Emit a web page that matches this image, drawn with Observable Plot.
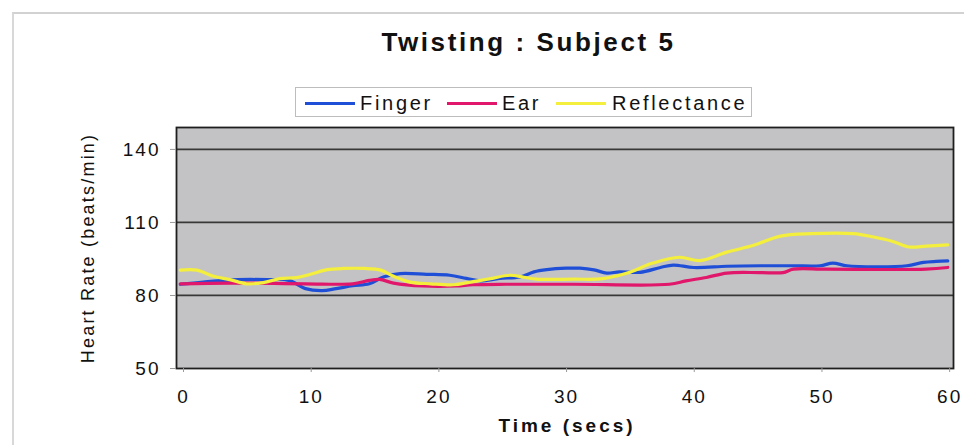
<!DOCTYPE html>
<html>
<head>
<meta charset="utf-8">
<script src="https://cdn.jsdelivr.net/npm/d3@7"></script>
<script src="https://cdn.jsdelivr.net/npm/@observablehq/plot@0.6"></script>
<style>
  body { margin: 0; background: #fff; font-family: "Liberation Sans", Arial, sans-serif; }
  #wrap { position: relative; width: 964px; height: 445px; overflow: hidden; background: #fff; }
  #outline { position: absolute; left: 12px; top: 12px; width: 980px; height: 460px;
             border-top: 2px solid #d2d2d2; border-left: 2px solid #d8d8d8; }
  #title { position: absolute; left: 0; width: 1057px; top: 28px; text-align: center; line-height: 29px;
           font-weight: bold; font-size: 26px; color: #111; letter-spacing: 2.6px; white-space: nowrap; }
  #legend { position: absolute; left: 295px; top: 87px; width: 457px; height: 30px;
            border: 1px solid #bdbdbd; box-sizing: border-box; }
  .sw { position: absolute; top: 102px; width: 50px; height: 3px; }
  .lab { position: absolute; top: 93px; font-size: 20px; line-height: 20px; color: #111;
         letter-spacing: 2.7px; white-space: nowrap; }
  svg { position: absolute; left: 0; top: 0; }
</style>
</head>
<body>
<div id="wrap">
  <div id="outline"></div>
  <div id="title">Twisting : Subject 5</div>
  <div id="legend"></div>
</div>
<script>
// Heart rate readings during the twisting trial, one set per sensor
const fingerTime = [0.3, 2.1, 4.8, 7.2, 8.8, 10.1, 11.4, 12.5, 13.8, 15.1, 16.2, 17.5, 19.6, 21.4, 22.7, 23.8, 25.3, 26.9, 28, 29, 30.5, 31.6, 32.7, 33.7, 34.7, 36.3, 37.9, 38.9, 40.5, 43.1, 45.7, 48.3, 50.4, 51.4, 52.5, 54.8, 57.2, 58.5, 59.5, 60.4];
const fingerBpm = [84.6, 85.5, 86.5, 86.5, 86.2, 82.8, 82, 82.8, 84, 84.8, 87.6, 89, 88.7, 88.3, 87, 86, 87, 87.6, 89.7, 90.6, 91.2, 91.2, 90.5, 89.2, 89.7, 89.5, 91.5, 92.5, 91.5, 92, 92.2, 92.2, 92.2, 93.3, 92.2, 91.8, 92.2, 93.6, 94, 94.2];

const earTime = [0.3, 4.2, 10.1, 13.8, 15.1, 15.9, 17, 19.3, 21.9, 23.2, 25.8, 31.1, 38.6, 39.9, 41.5, 43.1, 45.7, 47.5, 48.3, 50.9, 58.7, 60.4];
const earBpm = [84.8, 85.1, 84.8, 84.8, 86.2, 86.6, 85.1, 83.9, 83.9, 84.4, 84.6, 84.6, 84.6, 86, 87.4, 89.2, 89.4, 89.4, 90.8, 90.8, 90.8, 91.5];

const reflectanceTime = [0.3, 1.6, 2.9, 4.2, 5.5, 6.8, 8.1, 9.4, 10.5, 11.8, 13.1, 14.7, 16, 17, 18.3, 19.9, 21.7, 23, 24.6, 26.1, 27.2, 28.2, 31.1, 33.4, 35.3, 37.3, 39.4, 41, 43.1, 45.2, 47.3, 49.7, 53, 54.6, 56.1, 57.4, 58.7, 60.4];
const reflectanceBpm = [90.4, 90.4, 87.9, 86.5, 84.8, 85.3, 86.9, 87.3, 88.7, 90.6, 91.1, 91.1, 90.4, 87.9, 85.5, 84.8, 84.4, 85.5, 86.9, 88.3, 87.5, 86.7, 86.7, 86.9, 89.2, 93.3, 95.7, 94.3, 97.8, 100.6, 104.4, 105.4, 105.4, 104, 102.2, 99.9, 100.3, 100.8];

const seriesNames = ["Finger", "Ear", "Reflectance"];
const seriesColors = ["#1f4fd6", "#e0176a", "#f4ef3c"];
const xTicks = [0, 10, 20, 30, 40, 50, 60];
const yTicks = [50, 80, 110, 140];

const toRows = (name, t, v) => t.map((time, i) => ({ series: name, time, bpm: v[i] }));
const rows = [
  ...toRows("Finger", fingerTime, fingerBpm),
  ...toRows("Ear", earTime, earBpm),
  ...toRows("Reflectance", reflectanceTime, reflectanceBpm)
];

// legend above the plot: swatch and label offsets for each entry
const wrap = document.getElementById("wrap");
const swatchLeft = [305, 447, 556];
const labelLeft = [360, 502, 612];
seriesNames.forEach((name, i) => {
  const sw = document.createElement("div");
  sw.className = "sw";
  sw.style.left = swatchLeft[i] + "px";
  sw.style.background = seriesColors[i];
  wrap.appendChild(sw);
  const lab = document.createElement("div");
  lab.className = "lab";
  lab.style.left = labelLeft[i] + "px";
  lab.textContent = name;
  wrap.appendChild(lab);
});

const chart = Plot.plot({
  width: 964,
  height: 445,
  marginLeft: 176,
  marginRight: 11,
  marginTop: 127,
  marginBottom: 77,
  style: { fontFamily: "'Liberation Sans', Arial, sans-serif", fontSize: "19px", color: "#111", background: "transparent" },
  x: { domain: [0, 60.85] },
  y: { domain: [50, 149] },
  color: { domain: seriesNames, range: seriesColors },
  marks: [
    Plot.frame({ fill: "#c3c3c5" }),
    Plot.ruleY(yTicks.filter(d => d > 50), { stroke: "#383838", strokeWidth: 1.8 }),
    Plot.line(rows, {
      x: "time", y: "bpm", z: "series", stroke: "series",
      strokeWidth: 3.2, curve: "catmull-rom"
    }),
    Plot.frame({ stroke: "#1e1e1e", strokeWidth: 1.8 }),
    Plot.axisX(xTicks, { tickSize: 4, tickPadding: 17, dx: 7, stroke: "#999", label: null, fontSize: 19 }),
    Plot.axisY(yTicks, { tickSize: 6, tickPadding: 10, stroke: "#999", label: null, fontSize: 19 }),
    Plot.text(["Time (secs)"], { frameAnchor: "bottom", dy: 63, dx: 2, fontWeight: "bold", fontSize: 19, fill: "#111" }),
    Plot.text(["Heart Rate (beats/min)"], { frameAnchor: "left", textAnchor: "middle", dx: -88, rotate: -90, fontSize: 18, fill: "#111" })
  ]
});

// glyphs in this chart are set wide; spread every SVG label a little
chart.querySelectorAll("text").forEach(t => {
  const s = t.textContent;
  let ls = 2;
  if (s === "Time (secs)") ls = 3;
  if (s === "Heart Rate (beats/min)") ls = 2.2;
  t.style.letterSpacing = ls + "px";
});

wrap.appendChild(chart);
</script>
</body>
</html>
